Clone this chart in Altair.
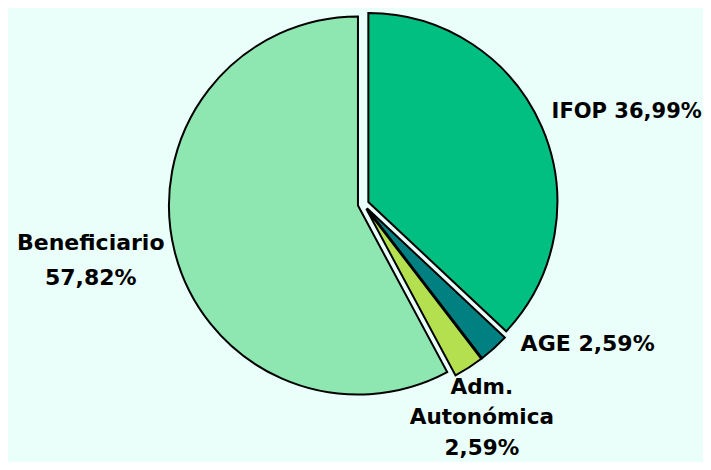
import altair as alt
import pandas as pd

# ---- data ----
categories = ["IFOP", "AGE", "Adm. Autonómica", "Beneficiario"]
values = [36.99, 2.59, 2.59, 57.82]
labels = ["IFOP 36,99%", "AGE 2,59%", "Adm.\nAutonómica\n2,59%", "Beneficiario\n57,82%"]
colors = ["#00BF80", "#008080", "#B4E050", "#8EE6B0"]

df = pd.DataFrame({
    "cat": categories,
    "value": values,
    "label": labels,
    "order": list(range(len(categories))),
})

# ---- layout / style ----
W, H = 695, 454
CX, CY = 355.3, 196.2      # pie centre
R = 189                     # pie radius
EXPLODE = 5.5               # slice explosion
RL = 215                    # label anchor radius
BG = "#EAFFF9"
FONT = "DejaVu Sans"

label_style = {
    "IFOP": dict(align="left", dx=-9, dy=-7, lineHeight=33, fontSize=21),
    "AGE": dict(align="left", dx=13, dy=-20, lineHeight=33, fontSize=22),
    "Adm. Autonómica": dict(align="center", dx=2, dy=3, lineHeight=30.5, fontSize=21.5),
    "Beneficiario": dict(align="center", dx=-64, dy=-13.5, lineHeight=35, fontSize=22),
}

base = alt.Chart(df).transform_joinaggregate(
    total="sum(value)"
).transform_window(
    cum="sum(value)", sort=[alt.SortField("order")], frame=[None, 0]
).transform_calculate(
    t1="2*PI*datum.cum/datum.total",
    t0="2*PI*(datum.cum-datum.value)/datum.total",
).transform_calculate(
    mid="(datum.t0+datum.t1)/2"
).transform_calculate(
    px=f"{CX}+{EXPLODE}*sin(datum.mid)",
    py=f"{CY}-{EXPLODE}*cos(datum.mid)",
    lx=f"{CX}+{RL}*sin(datum.mid)",
    ly=f"{CY}-{RL}*cos(datum.mid)",
)

arcs = base.mark_arc(outerRadius=R, stroke="black", strokeWidth=2).encode(
    x=alt.X("px:Q", scale=None),
    y=alt.Y("py:Q", scale=None),
    theta=alt.Theta("t0:Q", scale=None, stack=None),
    theta2="t1:Q",
    color=alt.Color("cat:N", scale=alt.Scale(domain=categories, range=colors), legend=None),
)

texts = []
for cat in categories:
    st = label_style[cat]
    texts.append(
        base.transform_filter(alt.datum.cat == cat).mark_text(
            font=FONT, fontWeight="bold", color="black",
            baseline="middle", lineBreak="\n", **st
        ).encode(
            x=alt.X("lx:Q", scale=None),
            y=alt.Y("ly:Q", scale=None),
            text="label:N",
        )
    )

chart = alt.layer(arcs, *texts).properties(
    width=W, height=H, padding=0, background=BG,
    autosize=alt.AutoSizeParams(type="none"),
).configure_view(stroke=None)

chart.save("out.html", embed_options={"renderer": "svg", "actions": False})
